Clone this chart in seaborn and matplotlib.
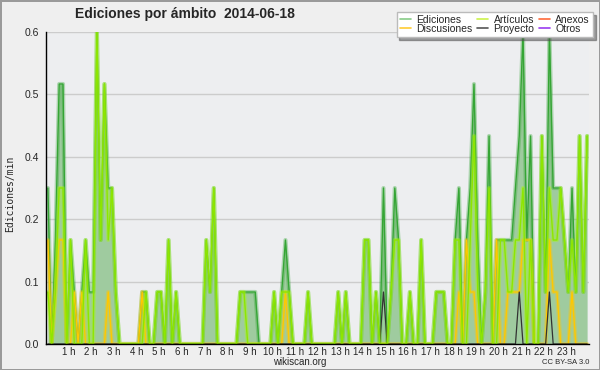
import numpy as np
import pandas as pd
import matplotlib
matplotlib.use("Agg")
import matplotlib.pyplot as plt
import matplotlib.patheffects as pe
import seaborn as sns
from matplotlib.lines import Line2D
from matplotlib.ticker import FixedLocator, MultipleLocator

# ediciones por cada 10 minutos (0:00 ... 23:50), una fila por hora
ediciones = [
    3, 0, 2, 5, 5, 0,
    2, 1, 0, 1, 2, 1,
    1, 6, 2, 5, 3, 3,
    1, 0, 0, 0, 0, 0,
    0, 1, 1, 0, 0, 1,
    1, 0, 2, 0, 1, 0,
    0, 0, 0, 0, 0, 0,
    2, 1, 3, 0, 0, 0,
    0, 0, 0, 1, 1, 1,
    1, 1, 0, 0, 0, 0,
    1, 0, 1, 2, 1, 0,
    0, 0, 0, 1, 0, 0,
    0, 0, 0, 0, 0, 1,
    0, 1, 0, 0, 0, 0,
    2, 2, 0, 1, 0, 3,
    0, 1, 3, 2, 0, 0,
    1, 0, 0, 2, 0, 0,
    0, 1, 1, 1, 0, 0,
    2, 3, 0, 2, 3, 5,
    2, 0, 1, 4, 0, 2,
    2, 2, 2, 2, 3, 4,
    6, 2, 4, 0, 0, 4,
    1, 6, 3, 3, 3, 2,
    1, 3, 1, 4, 1, 4,
]
articulos = [
    1, 0, 1, 3, 3, 0,
    2, 0, 0, 0, 2, 0,
    0, 6, 2, 5, 2, 3,
    1, 0, 0, 0, 0, 0,
    0, 0, 1, 0, 0, 1,
    1, 0, 2, 0, 1, 0,
    0, 0, 0, 0, 0, 0,
    2, 1, 3, 0, 0, 0,
    0, 0, 0, 1, 1, 0,
    0, 0, 0, 0, 0, 0,
    1, 0, 1, 1, 1, 0,
    0, 0, 0, 1, 0, 0,
    0, 0, 0, 0, 0, 1,
    0, 1, 0, 0, 0, 0,
    2, 2, 0, 1, 0, 0,
    0, 1, 2, 2, 0, 0,
    1, 0, 0, 2, 0, 0,
    0, 1, 1, 1, 0, 0,
    2, 2, 0, 0, 2, 4,
    1, 0, 1, 3, 0, 0,
    2, 2, 1, 1, 2, 2,
    3, 0, 2, 0, 0, 4,
    1, 3, 2, 2, 3, 2,
    1, 2, 1, 4, 1, 4,
]
discusiones = [
    2, 0, 1, 2, 2, 0,
    0, 1, 0, 1, 0, 0,
    0, 0, 0, 0, 1, 0,
    0, 0, 0, 0, 0, 0,
    0, 1, 0, 0, 0, 0,
    0, 0, 0, 0, 0, 0,
    0, 0, 0, 0, 0, 0,
    0, 0, 0, 0, 0, 0,
    0, 0, 0, 0, 0, 0,
    0, 0, 0, 0, 0, 0,
    0, 0, 0, 1, 0, 0,
    0, 0, 0, 0, 0, 0,
    0, 0, 0, 0, 0, 0,
    0, 0, 0, 0, 0, 0,
    0, 0, 0, 0, 0, 0,
    0, 0, 0, 0, 0, 0,
    0, 0, 0, 0, 0, 0,
    0, 0, 0, 0, 0, 0,
    0, 1, 0, 2, 1, 1,
    0, 0, 0, 0, 0, 2,
    0, 0, 1, 1, 1, 1,
    2, 2, 2, 0, 0, 0,
    0, 2, 1, 1, 0, 0,
    0, 1, 0, 0, 0, 0,
]
proyecto = [0] * 144
for k in (89, 125, 133):
    proyecto[k] = 1

titulo = "Ediciones por ámbito  2014-06-18"
y_ticks = [0.0, 0.12, 0.24, 0.36, 0.48, 0.6]
y_labels = ["0.0", "0.1", "0.2", "0.4", "0.5", "0.6"]
horas_labels = [f"{h} h" for h in range(1, 24)]

# cada valor = ediciones en 10 min -> ediciones/min
df = pd.DataFrame({
    "hora": (np.arange(144) * 10 + 5) / 60,
    "Ediciones": np.array(ediciones) / 10,
    "Artículos": np.array(articulos) / 10,
    "Discusiones": np.array(discusiones) / 10,
    "Proyecto": np.array(proyecto) / 10,
})

sns.set_style("white")
plt.rcParams["font.family"] = ["Liberation Sans Narrow", "Liberation Sans", "DejaVu Sans"]

bg = "#efefef"
fig = plt.figure(figsize=(6, 3.7), dpi=100, facecolor=bg)
fig.patch.set_edgecolor("#9a9a9a")
fig.patch.set_linewidth(2)
ax = fig.add_axes([46 / 600, 26 / 370, 543 / 600, 312 / 370])
ax.set_facecolor("#edeef0")

ax.fill_between(df["hora"], df["Ediciones"], color="#9fcb9f", lw=0)
glow = lambda c: [pe.Stroke(linewidth=3.0, foreground=c, alpha=0.35), pe.Normal()]
sns.lineplot(data=df, x="hora", y="Ediciones", color="#35a535", lw=1.0, ax=ax,
             path_effects=glow("#35a535"))
sns.lineplot(data=df, x="hora", y="Discusiones", color="#ffc800", lw=1.0, ax=ax,
             path_effects=glow("#ffc800"))
sns.lineplot(data=df, x="hora", y="Proyecto", color="#333333", lw=0.9, ax=ax)
sns.lineplot(data=df, x="hora", y="Artículos", color="#8ee600", lw=1.0, ax=ax,
             path_effects=glow("#a6ff00"))

ax.set_xlim(0, 24)
ax.set_ylim(0, 0.6)
ax.yaxis.set_major_locator(FixedLocator(y_ticks))
ax.set_yticklabels(y_labels)
ax.yaxis.set_minor_locator(MultipleLocator(0.03))
ax.xaxis.set_major_locator(FixedLocator(range(1, 24)))
ax.set_xticklabels(horas_labels)
ax.xaxis.set_minor_locator(MultipleLocator(1 / 8))
ax.grid(axis="y", color="#cccccc", lw=1)
ax.set_axisbelow(True)
for s in ("top", "right"):
    ax.spines[s].set_visible(False)
for s in ("left", "bottom"):
    ax.spines[s].set_color("black")
    ax.spines[s].set_linewidth(1)
ax.tick_params(axis="x", which="both", direction="out", length=3, width=1,
               color="black", labelsize=7, pad=-1)
ax.tick_params(axis="y", which="major", direction="out", length=4, width=1,
               color="black", labelsize=7.5, pad=1)
ax.tick_params(axis="y", which="minor", direction="out", length=3, width=1,
               color="black")
ax.set_xlabel("")
ax.set_ylabel("Ediciones/min", fontsize=7, family="DejaVu Sans Mono")
ax.yaxis.set_label_coords(-31 / 543, 0.48)

fig.text(75 / 600, 1 - 14 / 370, titulo, fontsize=10, fontweight="bold",
         va="center", ha="left")
fig.text(300 / 600, 1 - 362 / 370, "wikiscan.org", fontsize=7, ha="center", va="center")
fig.text(589 / 600, 1 - 363 / 370, "CC BY-SA 3.0", fontsize=5.5, ha="right", va="center")

handles = [
    Line2D([], [], color="#88cc88", lw=1.2, label="Ediciones"),
    Line2D([], [], color="#ffcc33", lw=1.2, label="Discusiones"),
    Line2D([], [], color="#ccf24a", lw=1.2, label="Artículos"),
    Line2D([], [], color="#555555", lw=1.2, label="Proyecto"),
    Line2D([], [], color="#ff6a3a", lw=1.2, label="Anexos"),
    Line2D([], [], color="#9a3cf0", lw=1.2, label="Otros"),
]
leg = fig.legend(handles=handles, ncol=3, loc="upper right",
                 bbox_to_anchor=(593 / 600, 1 - 12 / 370), fontsize=7.5,
                 frameon=True, fancybox=False, shadow=True, handlelength=1.1,
                 handletextpad=0.5, columnspacing=0.4, labelspacing=-0.1,
                 borderpad=0.3, borderaxespad=0)
leg.get_frame().set_edgecolor("#bbbbbb")
leg.get_frame().set_facecolor("white")

fig.savefig("out.png", dpi=100, facecolor=bg, edgecolor=fig.get_edgecolor())
